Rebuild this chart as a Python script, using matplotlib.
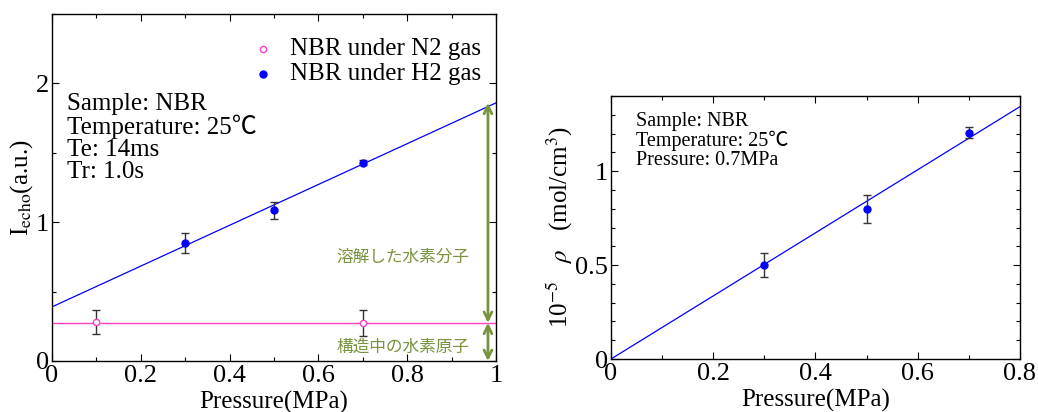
import matplotlib.pyplot as plt
from matplotlib.ticker import MultipleLocator
import numpy as np

plt.rcParams['font.family'] = ['Liberation Serif', 'Noto Sans CJK JP']
plt.rcParams['mathtext.fontset'] = 'stix'

# ---- left panel: echo intensity vs pressure ----
p_h2 = [0.3, 0.5, 0.7]
i_h2 = [0.85, 1.085, 1.43]
e_h2 = [0.07, 0.06, 0.02]
p_n2 = [0.1, 0.7]
i_n2 = [0.28, 0.275]
e_n2 = [0.085, 0.095]
fit_h2 = [1.47, 0.39]     # slope, intercept
n2_level = 0.275

# ---- right panel: hydrogen concentration vs pressure ----
p_rho = [0.3, 0.5, 0.7]
rho = [0.50, 0.80, 1.205]
e_rho = [0.065, 0.075, 0.03]
fit_rho = 1.68            # slope through origin

GREEN = '#77933c'
BLUE = '#0000ff'
PINK = '#ff3fbf'

fig = plt.figure(figsize=(10.38, 4.12), dpi=100)
ax1 = fig.add_axes([0.0501, 0.1238, 0.4277, 0.842])
ax2 = fig.add_axes([0.5886, 0.1286, 0.394, 0.638])

def style_axes(ax):
    ax.tick_params(which='both', direction='in', top=True, right=True, labelsize=19)
    ax.tick_params(axis='x', pad=3)
    ax.tick_params(axis='y', pad=2)
    ax.tick_params(which='major', length=5, width=0.8)
    ax.tick_params(which='minor', length=3, width=0.8)
    for s in ax.spines.values():
        s.set_linewidth(1.0)

# left
xs = np.array([0, 1])
ax1.plot(xs, fit_h2[0] * xs + fit_h2[1], color=BLUE, lw=0.9)
ax1.axhline(n2_level, color=PINK, lw=1.0)
ax1.errorbar(p_n2, i_n2, yerr=e_n2, fmt='o', mfc='white', mec=PINK, mew=1.0, ms=4.5,
             ecolor='#333333', elinewidth=1.0, capsize=3, zorder=5)
ax1.errorbar(p_h2, i_h2, yerr=e_h2, fmt='o', color=BLUE, ms=5,
             ecolor='#333333', elinewidth=1.0, capsize=3, zorder=5)

# legend drawn by hand inside the plot
ax1.plot([0.475], [2.25], 'o', mfc='white', mec=PINK, mew=1.0, ms=4.5)
ax1.plot([0.475], [2.07], 'o', color=BLUE, ms=5)
ax1.text(0.535, 2.25, 'NBR under N2 gas', fontsize=18, va='center')
ax1.text(0.535, 2.07, 'NBR under H2 gas', fontsize=18, va='center')

ax1.text(0.033, 1.93, 'Sample: NBR\nTemperature: 25℃\nTe: 14ms\nTr: 1.0s',
         fontsize=18, va='top', linespacing=0.98)

# arrows: dissolved hydrogen / structural hydrogen
xa = 0.982
top = fit_h2[0] * 1.0 + fit_h2[1]
ax1.annotate('', xy=(xa, n2_level), xytext=(xa, top),
             arrowprops=dict(arrowstyle='<->', color=GREEN, lw=2, mutation_scale=14, shrinkA=0, shrinkB=0))
ax1.annotate('', xy=(xa, 0), xytext=(xa, n2_level),
             arrowprops=dict(arrowstyle='<->', color=GREEN, lw=2, mutation_scale=14, shrinkA=0, shrinkB=0))
ax1.text(0.79, 0.75, '溶解した水素分子', color=GREEN, fontsize=12, ha='center', va='center',
         family='Noto Sans CJK JP')
ax1.text(0.79, 0.10, '構造中の水素原子', color=GREEN, fontsize=12, ha='center', va='center',
         family='Noto Sans CJK JP')

ax1.set_xlim(0, 1)
ax1.set_ylim(0, 2.5)
ax1.xaxis.set_minor_locator(MultipleLocator(0.1))
ax1.yaxis.set_minor_locator(MultipleLocator(0.5))
style_axes(ax1)
ax1.set_xticks([0, 0.2, 0.4, 0.6, 0.8, 1])
ax1.set_xticklabels(['0', '0.2', '0.4', '0.6', '0.8', '1'])
ax1.set_yticks([0, 1, 2])
ax1.set_yticklabels(['0', '1', '2'])
ax1.set_xlabel('Pressure(MPa)', fontsize=18, labelpad=3)
ax1.set_ylabel(r'I$_{\rm echo}$(a.u.)', fontsize=18, labelpad=1)

# right
xr = np.array([0, 0.8])
ax2.plot(xr, fit_rho * xr, color=BLUE, lw=0.9)
ax2.errorbar(p_rho, rho, yerr=e_rho, fmt='o', color=BLUE, ms=5,
             ecolor='#333333', elinewidth=1.0, capsize=3, zorder=5)
ax2.text(0.048, 1.315, 'Sample: NBR\nTemperature: 25℃\nPressure: 0.7MPa',
         fontsize=14.5, va='top', linespacing=0.98)
ax2.set_xlim(0, 0.8)
ax2.set_ylim(0, 1.4)
ax2.xaxis.set_minor_locator(MultipleLocator(0.1))
ax2.yaxis.set_minor_locator(MultipleLocator(0.1))
style_axes(ax2)
ax2.set_xticks([0, 0.2, 0.4, 0.6, 0.8])
ax2.set_xticklabels(['0', '0.2', '0.4', '0.6', '0.8'])
ax2.set_yticks([0, 0.5, 1])
ax2.set_yticklabels(['0', '0.5', '1'])
ax2.set_xlabel('Pressure(MPa)', fontsize=18, labelpad=3)
ax2.set_ylabel(r'10$^{-5}$   $\rho$   (mol/cm$^3$)', fontsize=18, labelpad=0)

fig.savefig('out.png', dpi=100)
